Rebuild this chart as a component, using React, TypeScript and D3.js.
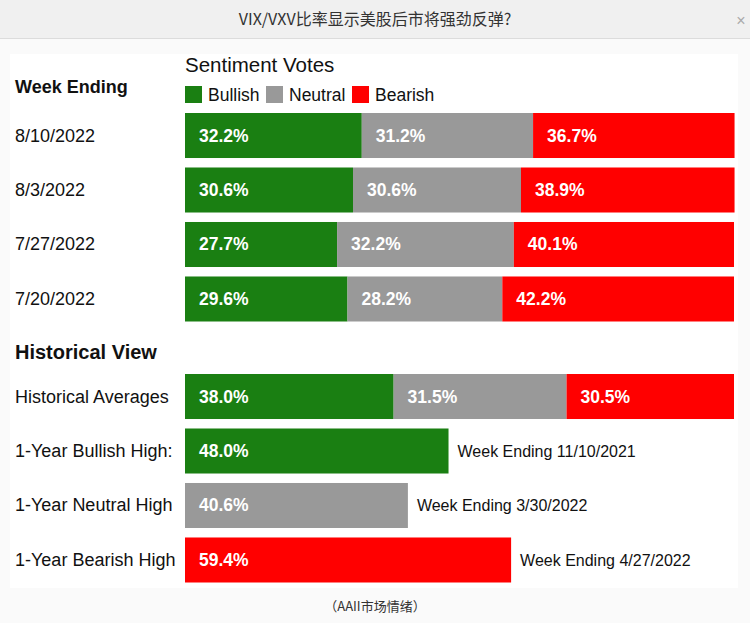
import React from "react";
import * as d3 from "d3";

const weeks = ["8/10/2022", "8/3/2022", "7/27/2022", "7/20/2022"];
const bullish = [32.2, 30.6, 27.7, 29.6];
const neutral = [31.2, 30.6, 32.2, 28.2];
const bearish = [36.7, 38.9, 40.1, 42.2];

const seriesNames = ["Bullish", "Neutral", "Bearish"];
const seriesColors = ["#1a7f12", "#999999", "#ff0000"];

const histAvgLabel = "Historical Averages";
const histAvg = [38.0, 31.5, 30.5];

const highLabels = ["1-Year Bullish High:", "1-Year Neutral High", "1-Year Bearish High"];
const highValues = [48.0, 40.6, 59.4];
const highSeries = [0, 1, 2];
const highWeeks = ["Week Ending 11/10/2021", "Week Ending 3/30/2022", "Week Ending 4/27/2022"];

const W = 750;
const H = 623;
const FONT = "'Liberation Sans', Arial, sans-serif";

export default function App() {
  const x = d3.scaleLinear().domain([0, 100]).range([185, 734]);
  const yTop = d3.scaleBand<string>().domain(weeks).range([113, 321.5]).paddingInner(0.174).paddingOuter(0);
  const histRows = [histAvgLabel, ...highLabels];
  const yHist = d3.scaleBand<string>().domain(histRows).range([374, 582.5]).paddingInner(0.174).paddingOuter(0);

  const stackRow = (vals: number[], y0: number, bw: number, key: string) => {
    let acc = 0;
    return vals.map((v, i) => {
      const x0 = x(acc);
      acc += v;
      const x1 = x(acc);
      return (
        <g key={key + i}>
          <rect x={x0} y={y0} width={x1 - x0} height={bw} fill={seriesColors[i]} />
          <text x={x0 + 14} y={y0 + bw / 2 + 6} fill="#fff" fontWeight="bold" fontSize={17.5} fontFamily={FONT}>
            {v.toFixed(1)}%
          </text>
        </g>
      );
    });
  };

  const legendX = [185, 266, 352];

  return (
    <svg width={W} height={H} style={{ position: "absolute", left: 0, top: 0 }}>
      <rect x={0} y={0} width={W} height={H} fill="#fafafa" />
      <rect x={0} y={0} width={W} height={38} fill="#f0f0f0" />
      <line x1={0} x2={W} y1={38.5} y2={38.5} stroke="#dcdcdc" />
      <text x={W / 2} y={25} textAnchor="middle" fontSize={16} fill="#333" fontFamily="'Noto Sans CJK SC', sans-serif">
        VIX/VXV比率显示美股后市将强劲反弹?
      </text>
      <text x={741} y={26} textAnchor="middle" fontSize={16} fill="#aaa" fontFamily={FONT}>×</text>

      <rect x={10} y={54} width={728} height={534} fill="#ffffff" />

      <text x={185} y={72} fontSize={20.5} fill="#111" fontFamily={FONT}>Sentiment Votes</text>
      <text x={15} y={93} fontSize={18} fontWeight="bold" fill="#111" fontFamily={FONT}>Week Ending</text>
      {seriesNames.map((n, i) => (
        <g key={n}>
          <rect x={legendX[i]} y={86} width={17} height={17} fill={seriesColors[i]} />
          <text x={legendX[i] + 23} y={101} fontSize={17.5} fill="#111" fontFamily={FONT}>{n}</text>
        </g>
      ))}

      {weeks.map((w, r) => {
        const y0 = yTop(w)!;
        const bw = yTop.bandwidth();
        return (
          <g key={w}>
            <text x={15} y={y0 + bw / 2 + 6} fontSize={18} fill="#111" fontFamily={FONT}>{w}</text>
            {stackRow([bullish[r], neutral[r], bearish[r]], y0, bw, w)}
          </g>
        );
      })}

      <text x={15} y={359} fontSize={20} fontWeight="bold" fill="#111" fontFamily={FONT}>Historical View</text>

      {(() => {
        const y0 = yHist(histAvgLabel)!;
        const bw = yHist.bandwidth();
        return (
          <g>
            <text x={15} y={y0 + bw / 2 + 6} fontSize={18} fill="#111" fontFamily={FONT}>{histAvgLabel}</text>
            {stackRow(histAvg, y0, bw, "hist")}
          </g>
        );
      })()}

      {highLabels.map((l, i) => {
        const y0 = yHist(l)!;
        const bw = yHist.bandwidth();
        const x1 = x(highValues[i]);
        return (
          <g key={l}>
            <text x={15} y={y0 + bw / 2 + 6} fontSize={18} fill="#111" fontFamily={FONT}>{l}</text>
            <rect x={x(0)} y={y0} width={x1 - x(0)} height={bw} fill={seriesColors[highSeries[i]]} />
            <text x={x(0) + 14} y={y0 + bw / 2 + 6} fill="#fff" fontWeight="bold" fontSize={17.5} fontFamily={FONT}>
              {highValues[i].toFixed(1)}%
            </text>
            <text x={x1 + 9} y={y0 + bw / 2 + 6} fontSize={16} fill="#111" fontFamily={FONT}>{highWeeks[i]}</text>
          </g>
        );
      })}

      <text x={W / 2} y={611} textAnchor="middle" fontSize={13} fill="#333" fontFamily="'Noto Sans CJK SC', sans-serif">
        （AAII市场情绪）
      </text>
    </svg>
  );
}
